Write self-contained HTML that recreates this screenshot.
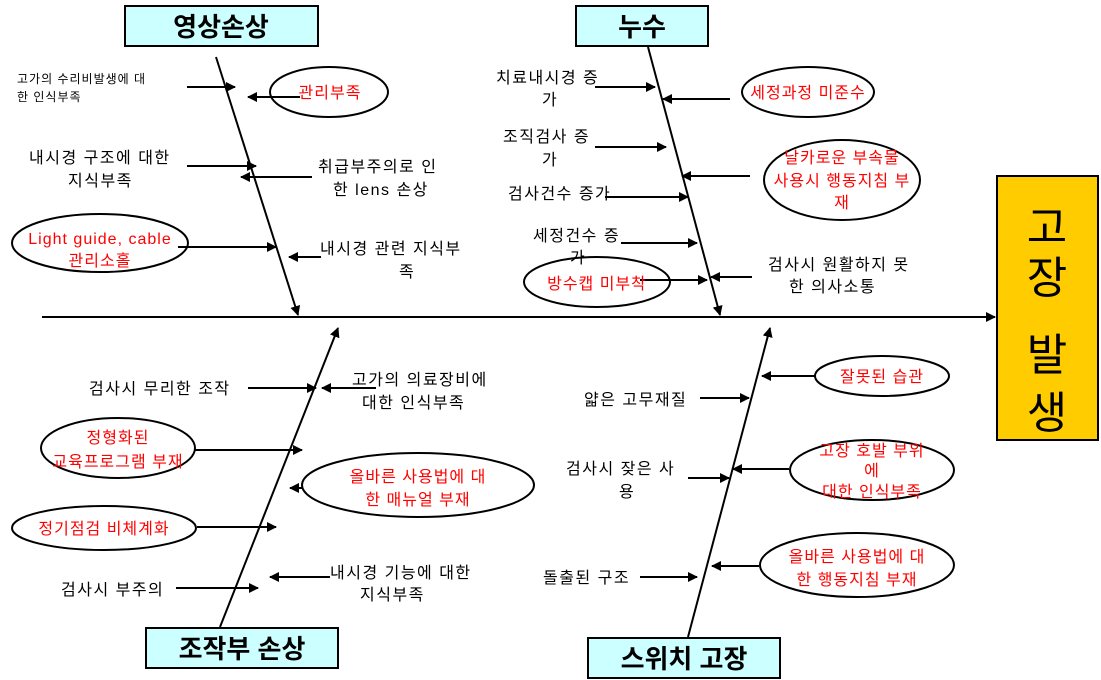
<!DOCTYPE html>
<html><head><meta charset="utf-8"><style>
html,body{margin:0;padding:0;background:#fff;}
svg{display:block;}
text{font-family:"Liberation Sans","Noto Sans CJK KR",sans-serif;}
.t{font-size:16px;fill:#000;letter-spacing:1.5px;}
.s{font-size:12px;fill:#000;letter-spacing:1px;}
.r{font-size:16px;fill:#f00;letter-spacing:1px;}
.h{font-size:26px;font-weight:bold;fill:#000;}
</style></head><body>
<svg width="1101" height="680" viewBox="0 0 1101 680" xmlns="http://www.w3.org/2000/svg">
<defs>
<marker id="a" markerWidth="10" markerHeight="10" refX="9" refY="5" orient="auto" markerUnits="userSpaceOnUse">
<path d="M0,0 L10,5 L0,10 z" fill="#000"/></marker>
</defs>
<g stroke="#000" stroke-width="2" fill="none">
<line x1="42" y1="317" x2="995" y2="317" marker-end="url(#a)"/>
<line x1="216" y1="57" x2="298" y2="315" marker-end="url(#a)"/>
<line x1="648" y1="47" x2="720" y2="315" marker-end="url(#a)"/>
<line x1="220" y1="627" x2="338" y2="328" marker-end="url(#a)"/>
<line x1="688" y1="637" x2="770" y2="328" marker-end="url(#a)"/>
<line x1="187" y1="87" x2="235" y2="87" marker-end="url(#a)"/>
<line x1="300" y1="97" x2="248" y2="97" marker-end="url(#a)"/>
<line x1="187" y1="166" x2="256" y2="166" marker-end="url(#a)"/>
<line x1="312" y1="177" x2="241" y2="177" marker-end="url(#a)"/>
<line x1="178" y1="247" x2="276" y2="247" marker-end="url(#a)"/>
<line x1="321" y1="257" x2="289" y2="257" marker-end="url(#a)"/>
<line x1="595" y1="87" x2="655" y2="87" marker-end="url(#a)"/>
<line x1="730" y1="99" x2="663" y2="99" marker-end="url(#a)"/>
<line x1="595" y1="147" x2="666" y2="147" marker-end="url(#a)"/>
<line x1="750" y1="176" x2="682" y2="176" marker-end="url(#a)"/>
<line x1="605" y1="197" x2="688" y2="197" marker-end="url(#a)"/>
<line x1="621" y1="243" x2="697" y2="243" marker-end="url(#a)"/>
<line x1="640" y1="280" x2="707" y2="280" marker-end="url(#a)"/>
<line x1="752" y1="277" x2="711" y2="277" marker-end="url(#a)"/>
<line x1="248" y1="388" x2="316" y2="388" marker-end="url(#a)"/>
<line x1="376" y1="388" x2="322" y2="388" marker-end="url(#a)"/>
<line x1="195" y1="450" x2="302" y2="450" marker-end="url(#a)"/>
<line x1="302" y1="488" x2="290" y2="488" marker-end="url(#a)"/>
<line x1="197" y1="527" x2="276" y2="527" marker-end="url(#a)"/>
<line x1="176" y1="588" x2="258" y2="588" marker-end="url(#a)"/>
<line x1="330" y1="577" x2="270" y2="577" marker-end="url(#a)"/>
<line x1="815" y1="376" x2="762" y2="376" marker-end="url(#a)"/>
<line x1="700" y1="398" x2="749" y2="398" marker-end="url(#a)"/>
<line x1="789" y1="469" x2="733" y2="469" marker-end="url(#a)"/>
<line x1="688" y1="478" x2="729" y2="478" marker-end="url(#a)"/>
<line x1="759" y1="566" x2="712" y2="566" marker-end="url(#a)"/>
<line x1="640" y1="577" x2="697" y2="577" marker-end="url(#a)"/>
<ellipse cx="329" cy="92" rx="59" ry="25"/>
<ellipse cx="100" cy="243" rx="88" ry="29"/>
<ellipse cx="808" cy="92" rx="66" ry="25"/>
<ellipse cx="842" cy="180" rx="78" ry="40"/>
<ellipse cx="597" cy="282" rx="73" ry="25"/>
<ellipse cx="118" cy="448" rx="77" ry="30"/>
<ellipse cx="418" cy="485" rx="116" ry="32"/>
<ellipse cx="104" cy="528" rx="92" ry="22"/>
<ellipse cx="882" cy="376" rx="67" ry="20"/>
<ellipse cx="872" cy="470" rx="82" ry="30"/>
<ellipse cx="857" cy="565" rx="97" ry="32"/>
</g>
<rect x="125" y="6" width="193" height="40" fill="#ccffff" stroke="#000" stroke-width="2"/>
<rect x="576" y="6" width="132" height="40" fill="#ccffff" stroke="#000" stroke-width="2"/>
<rect x="146" y="628" width="192" height="40" fill="#ccffff" stroke="#000" stroke-width="2"/>
<rect x="588" y="638" width="192" height="40" fill="#ccffff" stroke="#000" stroke-width="2"/>
<rect x="997" y="176" width="101" height="264" fill="#ffcc00" stroke="#000" stroke-width="2"/>
<text class="h" x="221" y="36" text-anchor="middle">영상손상</text>
<text class="h" x="642" y="36" text-anchor="middle">누수</text>
<text class="h" x="242" y="658" text-anchor="middle">조작부 손상</text>
<text class="h" x="684" y="668" text-anchor="middle">스위치 고장</text>
<text x="1047" y="243" text-anchor="middle" style="font-size:44px">고</text>
<text x="1047" y="293" text-anchor="middle" style="font-size:44px">장</text>
<text x="1047" y="370" text-anchor="middle" style="font-size:44px">발</text>
<text x="1047" y="428" text-anchor="middle" style="font-size:44px">생</text>
<text class="s" x="17" y="83">고가의 수리비발생에 대</text>
<text class="s" x="17" y="101">한 인식부족</text>
<text class="t" x="29" y="163">내시경 구조에 대한</text>
<text class="t" x="68" y="186">지식부족</text>
<text class="r" x="330" y="98" text-anchor="middle">관리부족</text>
<text class="t" x="318" y="172">취급부주의로 인</text>
<text class="t" x="333" y="195">한 lens  손상</text>
<text class="r" x="100" y="244" text-anchor="middle">Light guide, cable</text>
<text class="r" x="100" y="266" text-anchor="middle">관리소홀</text>
<text class="t" x="320" y="254">내시경 관련 지식부</text>
<text class="t" x="399" y="277">족</text>
<text class="t" x="496" y="83">치료내시경 증</text>
<text class="t" x="542" y="105">가</text>
<text class="r" x="808" y="98" text-anchor="middle">세정과정 미준수</text>
<text class="t" x="503" y="142">조직검사 증</text>
<text class="t" x="542" y="165">가</text>
<text class="r" x="842" y="163" text-anchor="middle">날카로운 부속물</text>
<text class="r" x="842" y="186" text-anchor="middle">사용시 행동지침 부</text>
<text class="r" x="842" y="208" text-anchor="middle">재</text>
<text class="t" x="508" y="199">검사건수 증가</text>
<text class="t" x="533" y="241">세정건수 증</text>
<text class="t" x="570" y="263">가</text>
<text class="r" x="597" y="289" text-anchor="middle">방수캡 미부착</text>
<text class="t" x="768" y="270">검사시 원활하지 못</text>
<text class="t" x="789" y="292">한 의사소통</text>
<text class="t" x="89" y="394">검사시 무리한 조작</text>
<text class="t" x="352" y="385">고가의 의료장비에</text>
<text class="t" x="362" y="408">대한 인식부족</text>
<text class="r" x="118" y="443" text-anchor="middle">정형화된</text>
<text class="r" x="118" y="467" text-anchor="middle">교육프로그램 부재</text>
<text class="r" x="418" y="482" text-anchor="middle">올바른 사용법에 대</text>
<text class="r" x="418" y="505" text-anchor="middle">한 매뉴얼 부재</text>
<text class="r" x="104" y="534" text-anchor="middle">정기점검 비체계화</text>
<text class="t" x="330" y="578">내시경 기능에 대한</text>
<text class="t" x="360" y="600">지식부족</text>
<text class="t" x="61" y="595">검사시 부주의</text>
<text class="r" x="882" y="382" text-anchor="middle">잘못된 습관</text>
<text class="t" x="584" y="405">얇은 고무재질</text>
<text class="r" x="872" y="456" text-anchor="middle">고장 호발 부위</text>
<text class="r" x="872" y="476" text-anchor="middle">에</text>
<text class="r" x="872" y="497" text-anchor="middle">대한 인식부족</text>
<text class="t" x="566" y="474">검사시 잦은 사</text>
<text class="t" x="619" y="497">용</text>
<text class="r" x="857" y="562" text-anchor="middle">올바른 사용법에 대</text>
<text class="r" x="857" y="585" text-anchor="middle">한 행동지침 부재</text>
<text class="t" x="543" y="583">돌출된 구조</text>
</svg>
</body></html>
